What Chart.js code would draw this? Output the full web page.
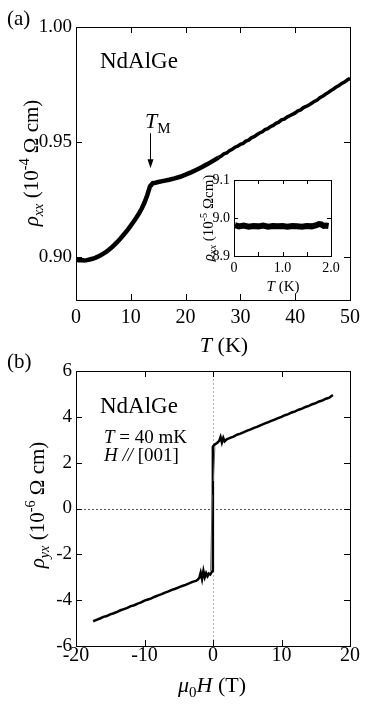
<!DOCTYPE html>
<html>
<head>
<meta charset="utf-8">
<script src="https://cdn.jsdelivr.net/npm/chart.js@4.4.1/dist/chart.umd.min.js"></script>
<style>
  html, body { margin: 0; padding: 0; background: #fff; }
  body { width: 382px; height: 704px; position: relative; overflow: hidden; }
  canvas { position: absolute; left: 0; }
  #topChart, #insetChart { top: 0; }
  #bottomChart { top: 350px; }
</style>
</head>
<body>
<canvas id="topChart" width="382" height="365"></canvas>
<canvas id="bottomChart" width="382" height="354"></canvas>
<canvas id="insetChart" width="382" height="365"></canvas>
<script>
// --- data (a): rho_xx vs T ---
const tempK = [0, 0.5, 1, 1.5, 2, 2.5, 3, 3.5, 4, 4.5, 5, 5.5, 6, 6.5, 7, 7.5, 8, 8.5, 9, 9.5,
  10, 10.5, 11, 11.5, 12, 12.5, 13, 13.5, 14, 14.5, 15, 16, 17, 18, 19, 20, 21, 22, 23, 24, 25, 26,
  26.5, 27, 27.5, 28, 28.5, 29, 29.5, 30, 30.5, 31, 31.5, 32, 32.5, 33, 33.5, 34, 34.5, 35, 35.5,
  36, 36.5, 37, 37.5, 38, 38.5, 39, 39.5, 40, 40.5, 41, 41.5, 42, 42.5, 43, 43.5, 44, 44.5, 45,
  45.5, 46, 46.5, 47, 47.5, 48, 48.5, 49, 49.5, 50];
const rhoXX = [0.8990, 0.8988, 0.8989, 0.8987, 0.8988, 0.8991, 0.8994, 0.8998, 0.9003, 0.9009,
  0.9016, 0.9024, 0.9033, 0.9043, 0.9054, 0.9066, 0.9079, 0.9093, 0.9107, 0.9122,
  0.9138, 0.9155, 0.9172, 0.9191, 0.9212, 0.9238, 0.9270, 0.9308, 0.9322, 0.9324, 0.9327,
  0.9332, 0.9337, 0.9343, 0.9350, 0.9359, 0.9369, 0.9380, 0.9392, 0.9405, 0.9419, 0.9433,
  0.9440, 0.9449, 0.9453, 0.9463, 0.9469, 0.9478, 0.9483, 0.9491, 0.9495, 0.9505, 0.9509,
  0.9519, 0.9524, 0.9532, 0.9540, 0.9545, 0.9555, 0.9559, 0.9568, 0.9573, 0.9582, 0.9587,
  0.9597, 0.9600, 0.9609, 0.9615, 0.9621, 0.9627, 0.9636, 0.9640, 0.9650, 0.9655, 0.9661,
  0.9669, 0.9677, 0.9683, 0.9693, 0.9699, 0.9708, 0.9715, 0.9724, 0.9731, 0.9740, 0.9746,
  0.9755, 0.9761, 0.9770, 0.9777];
const tempTicks = [0, 10, 20, 30, 40, 50];
const rhoTicks = [0.90, 0.95, 1.00];
const tmArrow = { T: 13.5, from: 0.9539, to: 0.9387 };

// --- inset: low temperature ---
const insetT = [0.02, 0.1, 0.2, 0.3, 0.4, 0.5, 0.6, 0.7, 0.8, 0.9, 1.0, 1.1, 1.2, 1.3, 1.4,
  1.5, 1.6, 1.7, 1.75, 1.8, 1.85, 1.9, 1.95];
const insetRho = [8.981, 8.978, 8.980, 8.977, 8.979, 8.978, 8.980, 8.977, 8.979, 8.978,
  8.979, 8.977, 8.979, 8.978, 8.977, 8.979, 8.978, 8.981, 8.984, 8.983, 8.979, 8.980, 8.979];
const insetTTicks = [0, 1, 2];
const insetRhoTicks = [8.9, 9.0, 9.1];

// --- data (b): rho_yx vs mu0H ---
const fieldUp = [-17.5, -17, -16.5, -16, -15.5, -15, -14.5, -14, -13.5, -13, -12.5, -12, -11.5,
  -11, -10.5, -10, -9.5, -9, -8.5, -8, -7.5, -7, -6.5, -6, -5.5, -5, -4.5, -4, -3.5, -3, -2.5,
  -2.2, -2, -1.8, -1.6, -1.4, -1.2, -1, -0.8, -0.6, -0.4, -0.2, -0.05, -0.02, 0.1, 0.3, 0.6, 0.9,
  1.1, 1.3, 1.5, 1.7, 2, 2.5, 3, 3.5, 4, 4.5, 5, 5.5, 6, 6.5, 7, 7.5, 8, 8.5, 9, 9.5, 10, 10.5,
  11, 11.5, 12, 12.5, 13, 13.5, 14, 14.5, 15, 15.5, 16, 16.5, 17, 17.5];
const rhoUp = [-4.92, -4.86, -4.80, -4.73, -4.69, -4.62, -4.57, -4.51, -4.44, -4.39, -4.34, -4.26,
  -4.22, -4.15, -4.10, -4.02, -3.97, -3.92, -3.85, -3.79, -3.74, -3.67, -3.62, -3.55, -3.50,
  -3.44, -3.38, -3.33, -3.27, -3.20, -3.16, -3.10, -3.02, -2.80, -3.08, -2.72, -3.00, -2.82,
  -2.95, -2.84, -2.88, -2.78, -2.72, 2.70, 2.74, 2.80, 2.86, 2.95, 3.12, 2.88, 3.08, 2.93, 3.02,
  3.08, 3.14, 3.22, 3.27, 3.33, 3.40, 3.45, 3.52, 3.57, 3.64, 3.70, 3.76, 3.82, 3.88, 3.94,
  4.00, 4.07, 4.12, 4.19, 4.24, 4.31, 4.36, 4.43, 4.48, 4.55, 4.60, 4.67, 4.72, 4.79, 4.84, 4.95];
// thin transition traces near zero field
const loopField = [-0.35, -0.12, null, 0.05, 0.28];
const loopRho = [-2.72, 0.6, null, 1.2, 2.70];
const fieldTicks = [-20, -10, 0, 10, 20];
const hallTicks = [-6, -4, -2, 0, 2, 4, 6];

const FAMILY = '"Liberation Serif", "DejaVu Serif", serif';
Chart.defaults.font.family = FAMILY;
Chart.defaults.color = '#000';

const toPoints = (xs, ys) => xs.map((x, i) => ({ x: x, y: ys[i] }));
const setTicks = list => scale => { scale.ticks = list.map(v => ({ value: v })); };

// text with italic / sub / sup pieces
function drawRich(ctx, spec) {
  const s = spec.size;
  const items = spec.parts.map(([t, st]) => {
    const small = st.includes('sub') || st.includes('sup');
    const sz = small ? s * 0.68 : s;
    const font = (st.startsWith('i') ? 'italic ' : '') + sz + 'px ' + FAMILY;
    ctx.font = font;
    const dy = st.includes('sub') ? s * 0.22 : st.includes('sup') ? -s * 0.42 : 0;
    return { t, font, dy, w: ctx.measureText(t).width };
  });
  const total = items.reduce((a, b) => a + b.w, 0);
  ctx.save();
  ctx.translate(spec.x, spec.y);
  if (spec.rot) ctx.rotate(-Math.PI / 2);
  ctx.fillStyle = '#000';
  ctx.textAlign = 'left';
  ctx.textBaseline = 'alphabetic';
  let cx = spec.align === 'center' ? -total / 2 : 0;
  items.forEach(it => {
    ctx.font = it.font;
    ctx.fillText(it.t, cx, it.dy);
    cx += it.w;
  });
  ctx.restore();
}

// box, inward ticks, zero lines, labels
function framePlugin(cfg) {
  return {
    id: 'frame',
    beforeDatasetsDraw(chart) {
      if (!cfg.zeroLines) return;
      const { ctx, chartArea: a, scales: { x, y } } = chart;
      ctx.save();
      ctx.lineWidth = 1;
      ctx.setLineDash([2, 2]);
      const px = Math.round(x.getPixelForValue(0)) + 0.5;
      ctx.strokeStyle = '#b0b0b0';
      ctx.beginPath(); ctx.moveTo(px, a.top); ctx.lineTo(px, a.bottom); ctx.stroke();
      const py = Math.round(y.getPixelForValue(0)) + 0.5;
      ctx.strokeStyle = '#555';
      ctx.beginPath(); ctx.moveTo(a.left, py); ctx.lineTo(a.right, py); ctx.stroke();
      ctx.restore();
    },
    afterDraw(chart) {
      const { ctx, chartArea: a, scales: { x, y } } = chart;
      const len = cfg.len;
      ctx.save();
      ctx.strokeStyle = '#000';
      ctx.lineWidth = 1;
      ctx.strokeRect(a.left + 0.5, a.top + 0.5, a.right - a.left, a.bottom - a.top);
      ctx.beginPath();
      cfg.xMarks.forEach(v => {
        const p = Math.round(x.getPixelForValue(v)) + 0.5;
        ctx.moveTo(p, a.bottom); ctx.lineTo(p, a.bottom - len);
        ctx.moveTo(p, a.top); ctx.lineTo(p, a.top + len);
      });
      cfg.yMarks.forEach(v => {
        const p = Math.round(y.getPixelForValue(v)) + 0.5;
        ctx.moveTo(a.left, p); ctx.lineTo(a.left + len, p);
        ctx.moveTo(a.right, p); ctx.lineTo(a.right - len, p);
      });
      ctx.stroke();
      if (cfg.arrow) {
        const ax = Math.round(x.getPixelForValue(cfg.arrow.T)) + 0.5;
        const y0 = y.getPixelForValue(cfg.arrow.from);
        const y1 = y.getPixelForValue(cfg.arrow.to);
        ctx.beginPath(); ctx.moveTo(ax, y0); ctx.lineTo(ax, y1 - 6); ctx.stroke();
        ctx.beginPath();
        ctx.moveTo(ax, y1); ctx.lineTo(ax - 3, y1 - 9); ctx.lineTo(ax + 3, y1 - 9);
        ctx.closePath(); ctx.fillStyle = '#000'; ctx.fill();
      }
      ctx.restore();
      cfg.texts.forEach(t => drawRich(ctx, t));
    }
  };
}

function axisOpts(min, max, ticks, fmt, size, pad, fit) {
  return {
    type: 'linear', min: min, max: max,
    afterBuildTicks: setTicks(ticks),
    afterFit: fit,
    grid: { display: false, drawTicks: false, tickLength: 0 },
    border: { display: false },
    ticks: { font: { size: size }, color: '#000', padding: pad, autoSkip: false, maxRotation: 0, callback: fmt }
  };
}

const baseOpts = {
  responsive: false,
  animation: false,
  events: [],
  plugins: { legend: { display: false }, tooltip: { enabled: false } }
};

// --- Panel (a) ---
new Chart(document.getElementById('topChart'), {
  type: 'scatter',
  data: {
    datasets: [{
      data: toPoints(tempK, rhoXX),
      showLine: true, borderColor: '#000', borderWidth: 4.5, pointRadius: 0, tension: 0,
      segment: { borderWidth: c => (c.p0.parsed.x >= 26 ? 3.5 : 4.5) }
    }]
  },
  options: {
    ...baseOpts,
    layout: { padding: { left: 0, top: 27, right: 32, bottom: 0 } },
    scales: {
      x: axisOpts(0, 50, tempTicks, v => String(v), 20, 6, s => { s.height = 65; }),
      y: axisOpts(0.8815, 1.0, rhoTicks, v => v.toFixed(2), 19, 4, s => { s.width = 76; })
    }
  },
  plugins: [framePlugin({
    len: 6, xMarks: [10, 20, 30, 40], yMarks: [0.90, 0.95],
    arrow: tmArrow,
    texts: [
      { x: 7, y: 25, size: 21, parts: [['(a)', '']] },
      { x: 100, y: 68, size: 23, parts: [['NdAlGe', '']] },
      { x: 145, y: 128, size: 22, parts: [['T', 'i'], ['M', 'sub']] },
      { x: 38, y: 163, size: 21, rot: true, align: 'center',
        parts: [['ρ', 'i'], ['xx', 'isub'], [' (10', ''], ['-4', 'sup'], [' Ω cm)', '']] },
      { x: 224, y: 352, size: 22, align: 'center', parts: [['T', 'i'], [' (K)', '']] }
    ]
  })]
});

// --- Inset (overlay canvas, same frame as panel a) ---
new Chart(document.getElementById('insetChart'), {
  type: 'scatter',
  data: {
    datasets: [{
      data: toPoints(insetT, insetRho),
      showLine: true, borderColor: '#000', borderWidth: 6, pointRadius: 0, tension: 0
    }]
  },
  options: {
    ...baseOpts,
    layout: { padding: { left: 0, top: 180, right: 51, bottom: 0 } },
    scales: {
      x: axisOpts(0, 2, insetTTicks, v => (v === 0 ? '0' : v.toFixed(1)), 14, 4, s => { s.height = 109; }),
      y: axisOpts(8.9, 9.1, insetRhoTicks, v => v.toFixed(1), 14, 4, s => { s.width = 234; })
    }
  },
  plugins: [framePlugin({
    len: 4, xMarks: [0.5, 1, 1.5], yMarks: [9.0],
    texts: [
      { x: 213, y: 218, size: 15, rot: true, align: 'center',
        parts: [['ρ', 'i'], ['xx', 'isub'], [' (10', ''], ['-5', 'sup'], [' Ωcm)', '']] },
      { x: 283, y: 291, size: 15, align: 'center', parts: [['T', 'i'], [' (K)', '']] }
    ]
  })]
});

// --- Panel (b) ---
new Chart(document.getElementById('bottomChart'), {
  type: 'scatter',
  data: {
    datasets: [{
      data: toPoints(loopField, loopRho),
      showLine: true, borderColor: '#666', borderWidth: 1, pointRadius: 0, tension: 0, spanGaps: false
    }, {
      data: toPoints(fieldUp, rhoUp),
      showLine: true, borderColor: '#000', borderWidth: 2.5, pointRadius: 0, tension: 0
    }]
  },
  options: {
    ...baseOpts,
    layout: { padding: { left: 0, top: 21, right: 32, bottom: 0 } },
    scales: {
      x: axisOpts(-20, 20, fieldTicks, v => String(v), 20, -2, s => { s.height = 58; }),
      y: axisOpts(-6, 6, hallTicks, v => String(v), 19, 4, s => { s.width = 76; })
    }
  },
  plugins: [framePlugin({
    len: 6, xMarks: [-10, 0, 10], yMarks: [-4, -2, 0, 2, 4],
    zeroLines: true,
    texts: [
      { x: 7, y: 18, size: 21, parts: [['(b)', '']] },
      { x: 100, y: 63, size: 23, parts: [['NdAlGe', '']] },
      { x: 104, y: 93, size: 19, parts: [['T', 'i'], [' = 40 mK', '']] },
      { x: 104, y: 111, size: 19, parts: [['H', 'i'], [' // ', 'i'], ['[001]', '']] },
      { x: 44, y: 155, size: 21, rot: true, align: 'center',
        parts: [['ρ', 'i'], ['yx', 'isub'], [' (10', ''], ['-6', 'sup'], [' Ω cm)', '']] },
      { x: 212, y: 342, size: 22, align: 'center', parts: [['μ', 'i'], ['0', 'sub'], ['H', 'i'], [' (T)', '']] }
    ]
  })]
});
</script>
</body>
</html>
